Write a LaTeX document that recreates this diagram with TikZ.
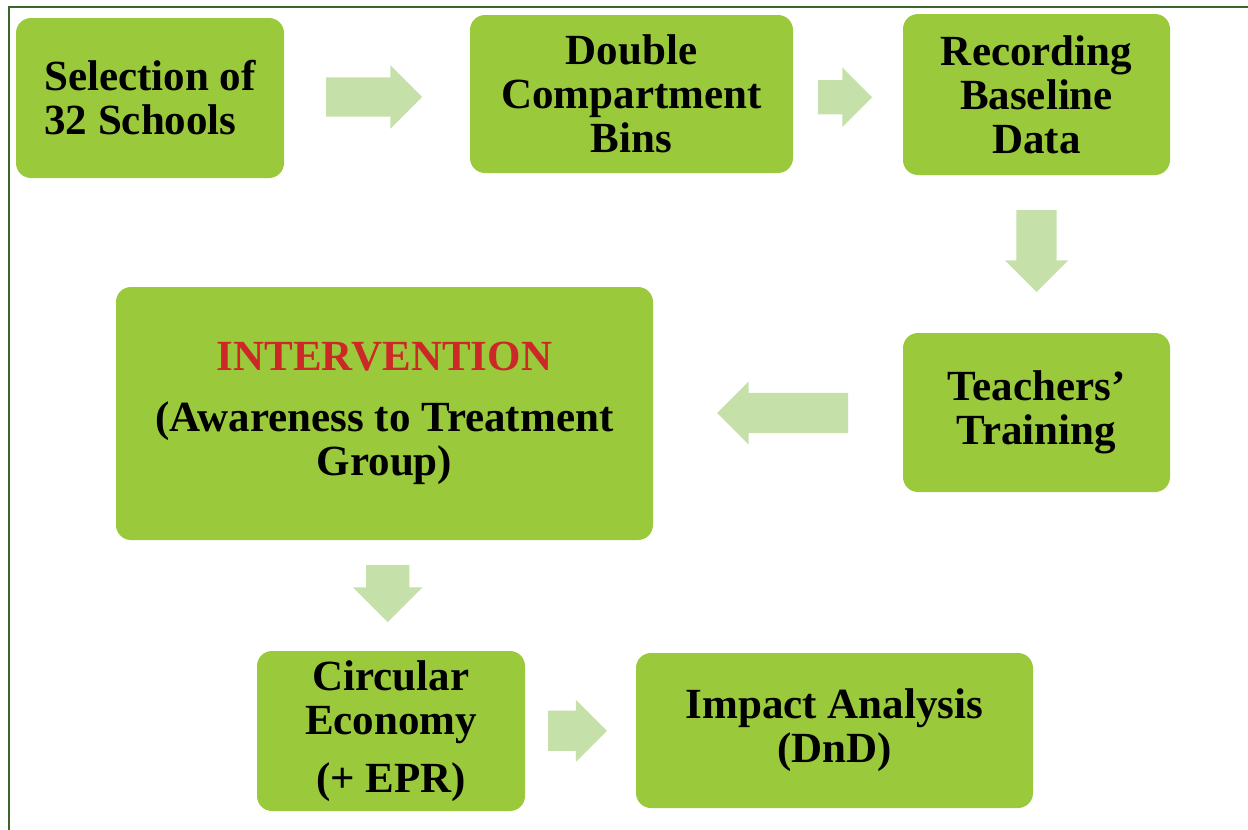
\documentclass[tikz,border=0pt]{standalone}
\usepackage{fontspec}
\setmainfont{Liberation Serif}
\usetikzlibrary{shapes.arrows,calc}
\definecolor{boxgreen}{RGB}{155,201,60}
\definecolor{arrowgreen}{RGB}{198,224,170}
\definecolor{framegreen}{RGB}{62,100,45}
\definecolor{intred}{RGB}{205,40,40}
\begin{document}
\begin{tikzpicture}[x=1pt,y=-1pt,
  stepbox/.style={fill=boxgreen, draw=none, rounded corners=15pt, align=center,
    font=\fontsize{43}{44}\selectfont\bfseries, inner sep=0pt, text=black},
  blockarrow/.style n args={3}{single arrow, fill=arrowgreen, draw=none, anchor=tail,
    minimum height=#1, minimum width=#2, inner xsep=0pt, inner ysep=#3/2,
    outer sep=0pt, single arrow head extend={(#2-#3)/2}, single arrow tip angle=90}]
\useasboundingbox (0,0) rectangle (1248,830);
\draw[framegreen, line width=2.5pt] (9,832) -- (9,7) -- (1250,7);

\node[stepbox, minimum width=268pt, minimum height=160pt, align=left] (sel) at (150,98) {Selection of\\32 Schools};
\node[stepbox, minimum width=323pt, minimum height=158pt] (dbl) at (631.5,94) {Double\\Compartment\\Bins};
\node[stepbox, minimum width=267pt, minimum height=161pt] (rec) at (1036.5,94.5) {Recording\\Baseline\\Data};
\node[stepbox, minimum width=267pt, minimum height=159pt] (tea) at (1036.5,412.5) {Teachers’\\Training};
\node[stepbox, minimum width=537pt, minimum height=253pt] (int) at (384.5,413.5) {{\color{intred}INTERVENTION}\\[17pt](Awareness to Treatment\\Group)};
\node[stepbox, minimum width=268pt, minimum height=160pt] (cir) at (391,731) {Circular\\Economy\\[14pt](+ EPR)};
\node[stepbox, minimum width=397pt, minimum height=155pt] (imp) at (834.5,730.5) {Impact Analysis\\(DnD)};

\node[blockarrow={96pt}{63pt}{39pt}] (a1) at ($(sel.east)!0.5!(dbl.west)+(-51,1)$) {};
\node[blockarrow={54pt}{59pt}{34pt}] (a2) at ($(dbl.east)!0.5!(rec.west)+(-30,3)$) {};
\node[blockarrow={82pt}{63pt}{40pt}, rotate=-90] (a3) at ($(rec.south)!0.5!(tea.north)+(0,-44)$) {};
\node[blockarrow={131pt}{63pt}{40pt}, rotate=180] (a4) at ($(tea.west)!0.5!(int.east)+(70,0)$) {};
\node[blockarrow={57pt}{69pt}{43pt}, rotate=-90] (a5) at ($(int.south)!0.5!(cir.north)+(0,-30.5)$) {};
\node[blockarrow={59pt}{62pt}{40pt}] (a6) at ($(cir.east)!0.5!(imp.west)+(-32.5,0)$) {};
\end{tikzpicture}
\end{document}
